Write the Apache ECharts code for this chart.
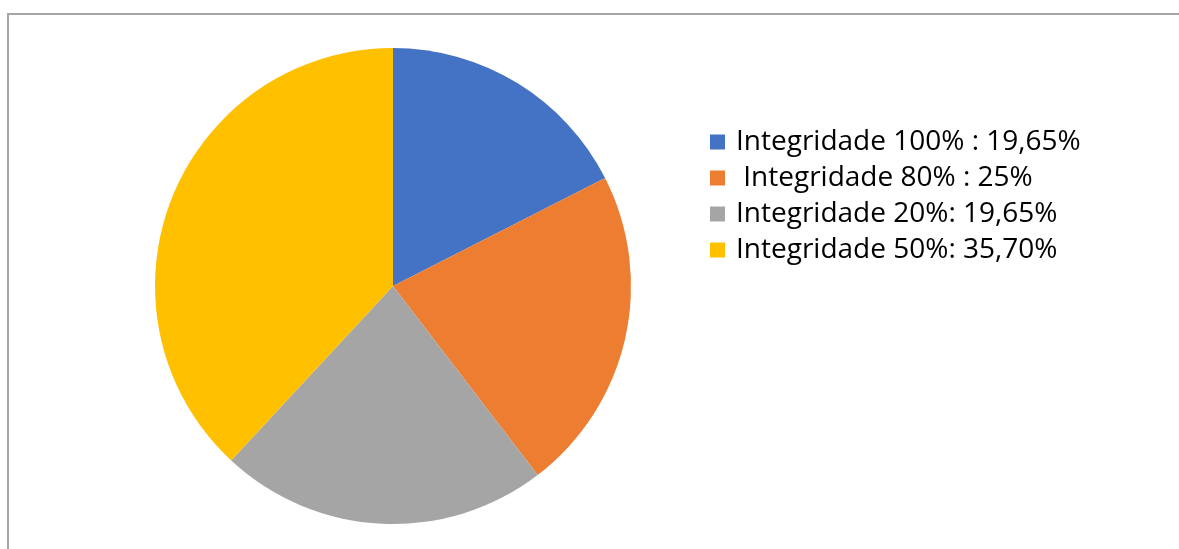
<!DOCTYPE html>
<html>
<head>
<meta charset="utf-8">
<script src="https://cdn.jsdelivr.net/npm/echarts@6/dist/echarts.min.js"></script>
<style>
  html, body { margin: 0; padding: 0; background: #ffffff; }
  #chart { width: 1179px; height: 549px; }
</style>
</head>
<body>
<div id="chart"></div>
<script>
// slice labels as shown in the legend
const sliceNames = [
  "Integridade 100% : 19,65%",
  " Integridade 80% : 25%",
  "Integridade 20%: 19,65%",
  "Integridade 50%: 35,70%",
];
const sliceValues = [17.5, 22.1, 22.3, 38.1];
const sliceColors = ["#4472c4", "#ed7d31", "#a5a5a5", "#ffc000"];

const chart = echarts.init(document.getElementById("chart"), null, { renderer: "canvas" });

chart.setOption({
  animation: false,
  color: sliceColors,
  graphic: [
    {
      type: "polyline",
      shape: { points: [[8, 549], [8, 14], [1179, 14]] },
      style: { stroke: "#a6a6a6", lineWidth: 2, fill: null },
      silent: true,
    },
  ],
  legend: {
    orient: "vertical",
    left: 705,
    top: 123,
    itemWidth: 15,
    itemHeight: 15,
    itemGap: 8,
    icon: "rect",
    textStyle: {
      color: "#000000",
      fontSize: 28,
      lineHeight: 28,
      fontFamily: "Open Sans",
      padding: [0, 0, 0, 6],
    },
    selectedMode: false,
  },
  series: [
    {
      type: "pie",
      center: [393, 286],
      radius: 238,
      startAngle: 90,
      clockwise: true,
      label: { show: false },
      labelLine: { show: false },
      itemStyle: { borderWidth: 0 },
      emphasis: { disabled: true },
      data: sliceNames.map((name, i) => ({ name: name, value: sliceValues[i] })),
    },
  ],
});
</script>
</body>
</html>
